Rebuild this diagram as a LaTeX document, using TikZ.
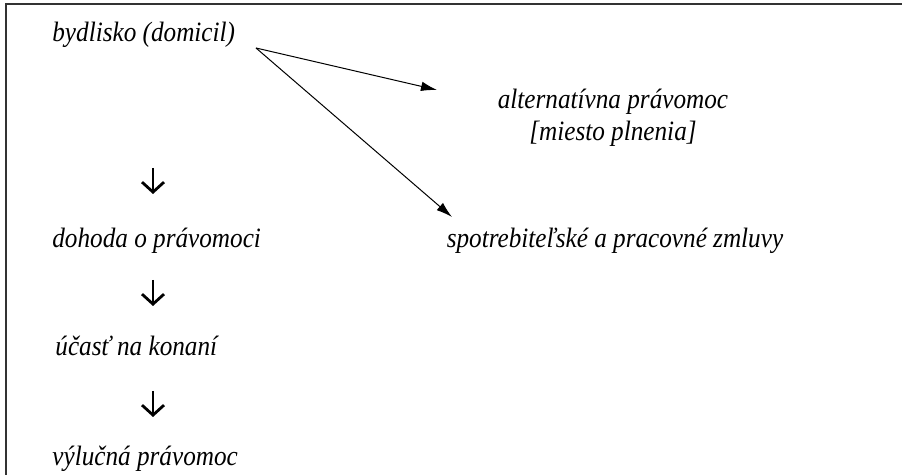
\documentclass[tikz,border=0pt]{standalone}
\usepackage{fontspec}
\setmainfont[FakeStretch=0.9]{Liberation Serif}
\usetikzlibrary{arrows.meta}

\begin{document}
\begin{tikzpicture}[x=0.5pt, y=-0.5pt,
		lbl/.style={font=\itshape\fontsize{14}{16}\selectfont, inner sep=0pt},
		thinarr/.style={-{Latex[length=8pt, width=4.8pt]}, line width=0.5pt},
		downarr/.style={-{Straight Barb[length=5pt, width=11pt]}, line width=1.4pt}]
				\useasboundingbox (0,0) rectangle (902,475);
				\draw[line width=0.7pt, black!80] (6,475) -- (6,4) -- (902,4);
				\node[lbl, anchor=base west] (dom)at(52, 42) {bydlisko (domicil)};
				\node[lbl, anchor=base west] (doh)at(52, 248) {dohoda o právomoci};
				\node[lbl, anchor=base west] (ucast)at(55, 356) {účasť na konaní};
				\node[lbl, anchor=base west] (vyl)at(52, 466) {výlučná právomoc};
				\node[lbl, align=center] (alt)at(613, 118) {alternatívna právomoc\\{}[miesto plnenia]};
				\node[lbl, anchor=base] (spotr)at(615, 248) {spotrebiteľské a pracovné zmluvy};
				\coordinate (fork)at(256, 48);
				\coordinate (altin)at(437, 90);
				\coordinate (spotrin)at(452, 217);
				\draw[thinarr] (fork) -- (altin);
				\draw[thinarr] (fork) -- (spotrin);
				\draw[downarr] (153, 168) -- (153, 194);
				\draw[downarr] (153, 280) -- (153, 306);
				\draw[downarr] (153, 391) -- (153, 417);
			\end{tikzpicture}
\end{document}
